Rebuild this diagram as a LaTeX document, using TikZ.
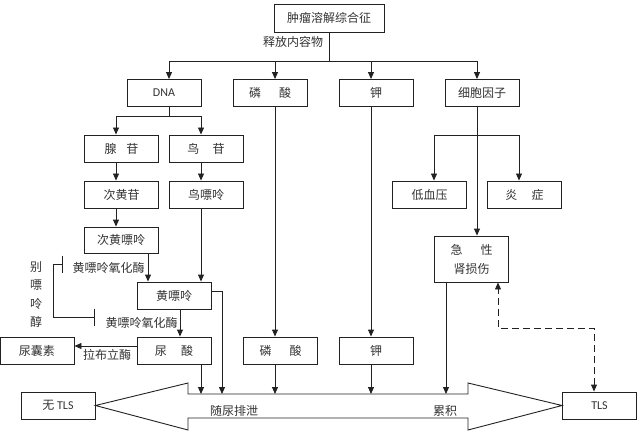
\documentclass[tikz,border=0pt]{standalone}
\usepackage{fontspec}
\setmainfont{Carlito}
\newfontfamily\cjk{Noto Sans CJK SC}
\usetikzlibrary{arrows.meta}
\definecolor{ink}{HTML}{222222}
\definecolor{txt}{HTML}{333333}
\tikzset{
  box/.style={draw=ink, line width=0.9pt, minimum width=74pt, minimum height=27pt, inner sep=0pt, font=\cjk\fontsize{12}{15}\selectfont, text=txt, align=center},
  lbl/.style={inner sep=0pt, font=\cjk\fontsize{12}{15}\selectfont, text=txt},
  ln/.style={draw=ink, line width=0.9pt},
  arr/.style={ln, -{Triangle[length=7pt,width=6pt]}},
  dbl/.style={ln, {Triangle[length=7pt,width=6pt]}-{Triangle[length=7pt,width=6pt]}},
}
\begin{document}
\begin{tikzpicture}[x=1pt,y=-1pt]
\useasboundingbox (0,0) rectangle (640,433);
% boxes
\node[box, minimum width=110pt, minimum height=28pt] (top) at (329,18) {肿瘤溶解综合征};
\node[lbl] (rel) at (293,42) {释放内容物};
\node[box] (dna) at (164,93) {\fontspec{Carlito}DNA};
\node[box] (pa1) at (270,93) {磷\hspace{1.5em}酸};
\node[box] (k1) at (376,93) {钾};
\node[box] (cyt) at (482,93) {细胞因子};
\node[box] (ade) at (121.5,148.5) {腺\hspace{0.8em}苷};
\node[box] (gua) at (206,148.5) {鸟\hspace{1.1em}苷};
\node[box] (ino) at (121.5,194.5) {次黄苷};
\node[box] (gun) at (206,194.5) {鸟嘌呤};
\node[box, minimum height=26pt] (hyp) at (121,240) {次黄嘌呤};
\node[box] (xan) at (174,295.5) {黄嘌呤};
\node[box] (uric) at (174,350.5) {尿\hspace{1.2em}酸};
\node[box] (allan) at (37,350.5) {尿囊素};
\node[box] (pa2) at (280.5,350.5) {磷\hspace{1.5em}酸};
\node[box] (k2) at (376,350.5) {钾};
\node[box] (hypo) at (429.5,194.5) {低血压};
\node[box] (infl) at (524.5,194.5) {炎\hspace{1.2em}症};
\node[box, minimum height=46pt, font=\cjk\fontsize{12}{19}\selectfont] (aki) at (471.5,259) {急\hspace{1.5em}性\\肾损伤};
\node[box] (notls) at (58,405.5) {无 \fontspec{Carlito}TLS};
\node[box] (tls) at (599.5,405.5) {\fontspec{Carlito}TLS};
% labels
\node[lbl] (xo1) at (108.5,268) {黄嘌呤氧化酶};
\node[lbl] (xo2) at (141.5,323) {黄嘌呤氧化酶};
\node[lbl] (rasb) at (107,355) {拉布立酶};
\node[lbl, align=center, font=\cjk\fontsize{12}{18.5}\selectfont] (allo) at (36,294.5) {别\\嘌\\呤\\醇};
% coordinates
\coordinate (bus) at (329,61);
\coordinate (dsplit) at (169,116);
\coordinate (csplit) at (477,135);
\coordinate (e1) at (201,394);
\coordinate (e2) at (222,394);
\coordinate (e3) at (275,394);
\coordinate (e4) at (371,394);
\coordinate (e5) at (446,394);
\coordinate (dk) at (498,328);
\coordinate (inhA) at (63,264);
\coordinate (inhB) at (95,317);
% top level
\draw[ln] (top.south -| bus) -- (bus);
\draw[arr] (bus) -| ([xshift=5pt]dna.north);
\draw[arr] (bus) -| ([xshift=5pt]pa1.north);
\draw[arr] (bus) -| ([xshift=-5pt]k1.north);
\draw[arr] (bus) -| ([xshift=-5pt]cyt.north);
% DNA branch
\draw[ln] ([xshift=5pt]dna.south) -- (dsplit);
\draw[arr] (dsplit) -| ([xshift=-5.5pt]ade.north);
\draw[arr] (dsplit) -| ([xshift=-5pt]gua.north);
\draw[arr] ([xshift=-5.5pt]ade.south) -- ([xshift=-5.5pt]ino.north);
\draw[arr] ([xshift=-5pt]gua.south) -- ([xshift=-5pt]gun.north);
\draw[arr] ([xshift=-5.5pt]ino.south) -- ([xshift=-5.5pt]ino.south |- hyp.north);
\draw[arr] ([xshift=27pt]hyp.south) -- ([xshift=27pt]hyp.south |- xan.north);
\draw[arr] ([xshift=-5pt]gun.south) -- ([xshift=-5pt]gun.south |- xan.north);
\draw[arr] ([xshift=6pt]xan.south) -- ([xshift=6pt]uric.north);
\draw[arr] ([yshift=4.5pt]xan.east) -| (e2);
\draw[arr] ([xshift=27pt]uric.south) -- (e1);
\draw[arr] ([yshift=4.5pt]uric.west) -- ([yshift=4.5pt]allan.east);
% inhibitor
\draw[ln, {Bar[width=17pt]}-{Bar[width=17pt]}] (inhA) -- ++(-10,0) |- (inhB);
% phosphate, potassium
\draw[arr] ([xshift=5pt]pa1.south) -- ([xshift=5pt]pa1.south |- pa2.north);
\draw[arr] ([xshift=-5.5pt]pa2.south) -- (e3);
\draw[arr] ([xshift=-5pt]k1.south) -- ([xshift=-5pt]k2.north);
\draw[arr] ([xshift=-5pt]k2.south) -- (e4);
% cytokines
\draw[arr] ([xshift=-5pt]cyt.south) -- ([xshift=-5pt]cyt.south |- aki.north);
\draw[arr] (csplit) -- (csplit -| 434,0) -- ([xshift=4.5pt]hypo.north);
\draw[arr] (csplit) -- (csplit -| 519,0) -- ([xshift=-5.5pt]infl.north);
\draw[arr] ([xshift=-25.5pt]aki.south) -- (e5);
\draw[dbl, dashed, dash pattern=on 7pt off 4pt] ([xshift=-5.5pt]tls.north) |- (dk) -- (dk |- aki.south);
% big double arrow
\draw[ln] (notls.east) -- (188,383) -- (188,394) -- (468,394) -- (468,383) -- (tls.west) -- (468,430) -- (468,418) -- (188,418) -- (188,430) -- cycle;
\node[lbl] (excr) at (234,411) {随尿排泄};
\node[lbl] (accu) at (445,411) {累积};
\end{tikzpicture}
\end{document}
